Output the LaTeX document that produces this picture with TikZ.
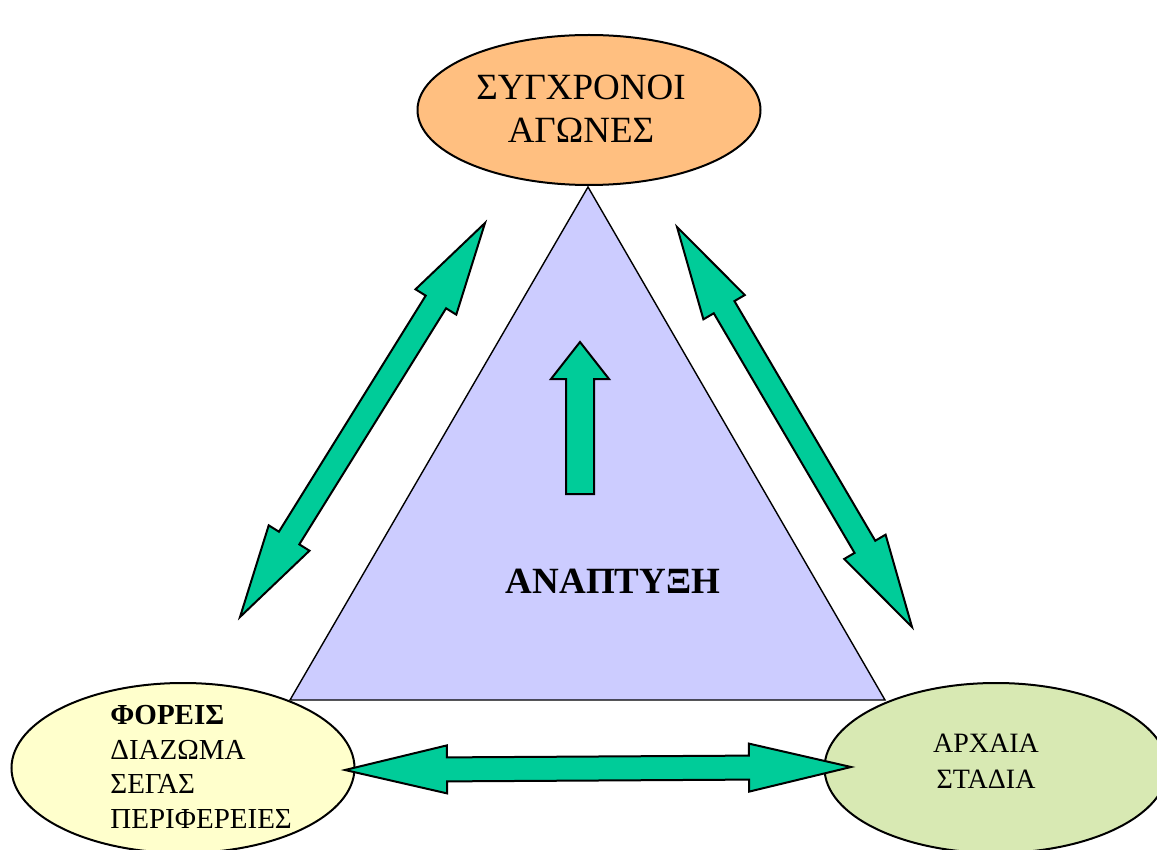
\documentclass[tikz,border=0pt]{standalone}
\usepackage{fontspec}
\setmainfont{Liberation Serif}
\usepackage{tikz}
\usetikzlibrary{positioning, calc, shapes.geometric}

\definecolor{orangefill}{HTML}{FFBF80}
\definecolor{yellowfill}{HTML}{FFFFCC}
\definecolor{greenfill}{HTML}{D8E9B3}
\definecolor{trianglefill}{HTML}{CCCCFF}
\definecolor{arrowfill}{HTML}{00CC99}

% block arrow with a head at both tips, #3 is the head length
\newcommand{\blockarrow}[3]{%
    \coordinate (#1h) at ($(#1)!#3!(#2)$);
    \coordinate (#2h) at ($(#2)!#3!(#1)$);
    \filldraw[arrowbody] (#1)
        -- ($(#1h)!12pt!90:(#2)$) -- ($(#1h)!6pt!90:(#2)$)
        -- ($(#2h)!6pt!-90:(#1)$) -- ($(#2h)!12pt!-90:(#1)$)
        -- (#2)
        -- ($(#2h)!12pt!90:(#1)$) -- ($(#2h)!6pt!90:(#1)$)
        -- ($(#1h)!6pt!-90:(#2)$) -- ($(#1h)!12pt!-90:(#2)$)
        -- cycle;
}

\begin{document}
\begin{tikzpicture}[
    x=0.5pt, y=-0.5pt,
    oval/.style={ellipse, draw, line width=1pt, minimum width=171.5pt, minimum height=75pt, inner sep=0pt},
    bigtext/.style={align=center, font=\fontsize{18.5}{21.5}\selectfont},
    smalltext/.style={align=left, inner sep=0pt, font=\fontsize{14.5}{17.25}\selectfont},
    triangle/.style={draw, line width=0.7pt, fill=trianglefill, line join=miter},
    arrowbody/.style={draw, line width=1pt, fill=arrowfill, line join=miter},
]
\useasboundingbox (0,0) rectangle (1157,850);

% Draw the triangle
\coordinate (apex) at (588,187);
\coordinate (baseL) at (290,700);
\coordinate (baseR) at (885,700);
\draw[triangle] (apex) -- (baseR) -- (baseL) -- cycle;
\node[font=\fontsize{18.5}{21.5}\selectfont\bfseries] (growth) at (613,581) {ΑΝΑΠΤΥΞΗ};

% Draw the upward arrow
\coordinate (up) at (580,342);
\filldraw[arrowbody] (up) -- ++(29,37) -- ++(-15,0) -- ++(0,115)
    -- ++(-28,0) -- ++(0,-115) -- ++(-15,0) -- cycle;

% Draw the three ellipses
\node[oval, fill=orangefill] (modern) at (589,110) {};
\node[bigtext] (modern-txt) at (581,109) {ΣΥΓΧΡΟΝΟΙ\\ΑΓΩΝΕΣ};

\node[oval, fill=yellowfill, minimum height=85pt] (bodies) at (183,768) {};
\node[smalltext, anchor=north west] (bodies-txt) at (110,705)
    {\textbf{ΦΟΡΕΙΣ}\\ΔΙΑΖΩΜΑ\\ΣΕΓΑΣ\\ΠΕΡΙΦΕΡΕΙΕΣ};

\node[oval, fill=greenfill, minimum height=85pt] (ancient) at (996,768) {};
\node[align=center, font=\fontsize{14}{18}\selectfont] (ancient-txt) at (986,761)
    {ΑΡΧΑΙΑ\\ΣΤΑΔΙΑ};

% Draw the double arrows between the ellipses
\coordinate (left-top) at (485,223);
\coordinate (left-bot) at (240,617);
\coordinate (right-top) at (677,227);
\coordinate (right-bot) at (912,627);
\coordinate (bot-left) at (345,770);
\coordinate (bot-right) at (851,767);

\blockarrow{left-top}{left-bot}{46.5pt}
\blockarrow{right-top}{right-bot}{46.5pt}
\blockarrow{bot-left}{bot-right}{51pt}

\end{tikzpicture}
\end{document}
